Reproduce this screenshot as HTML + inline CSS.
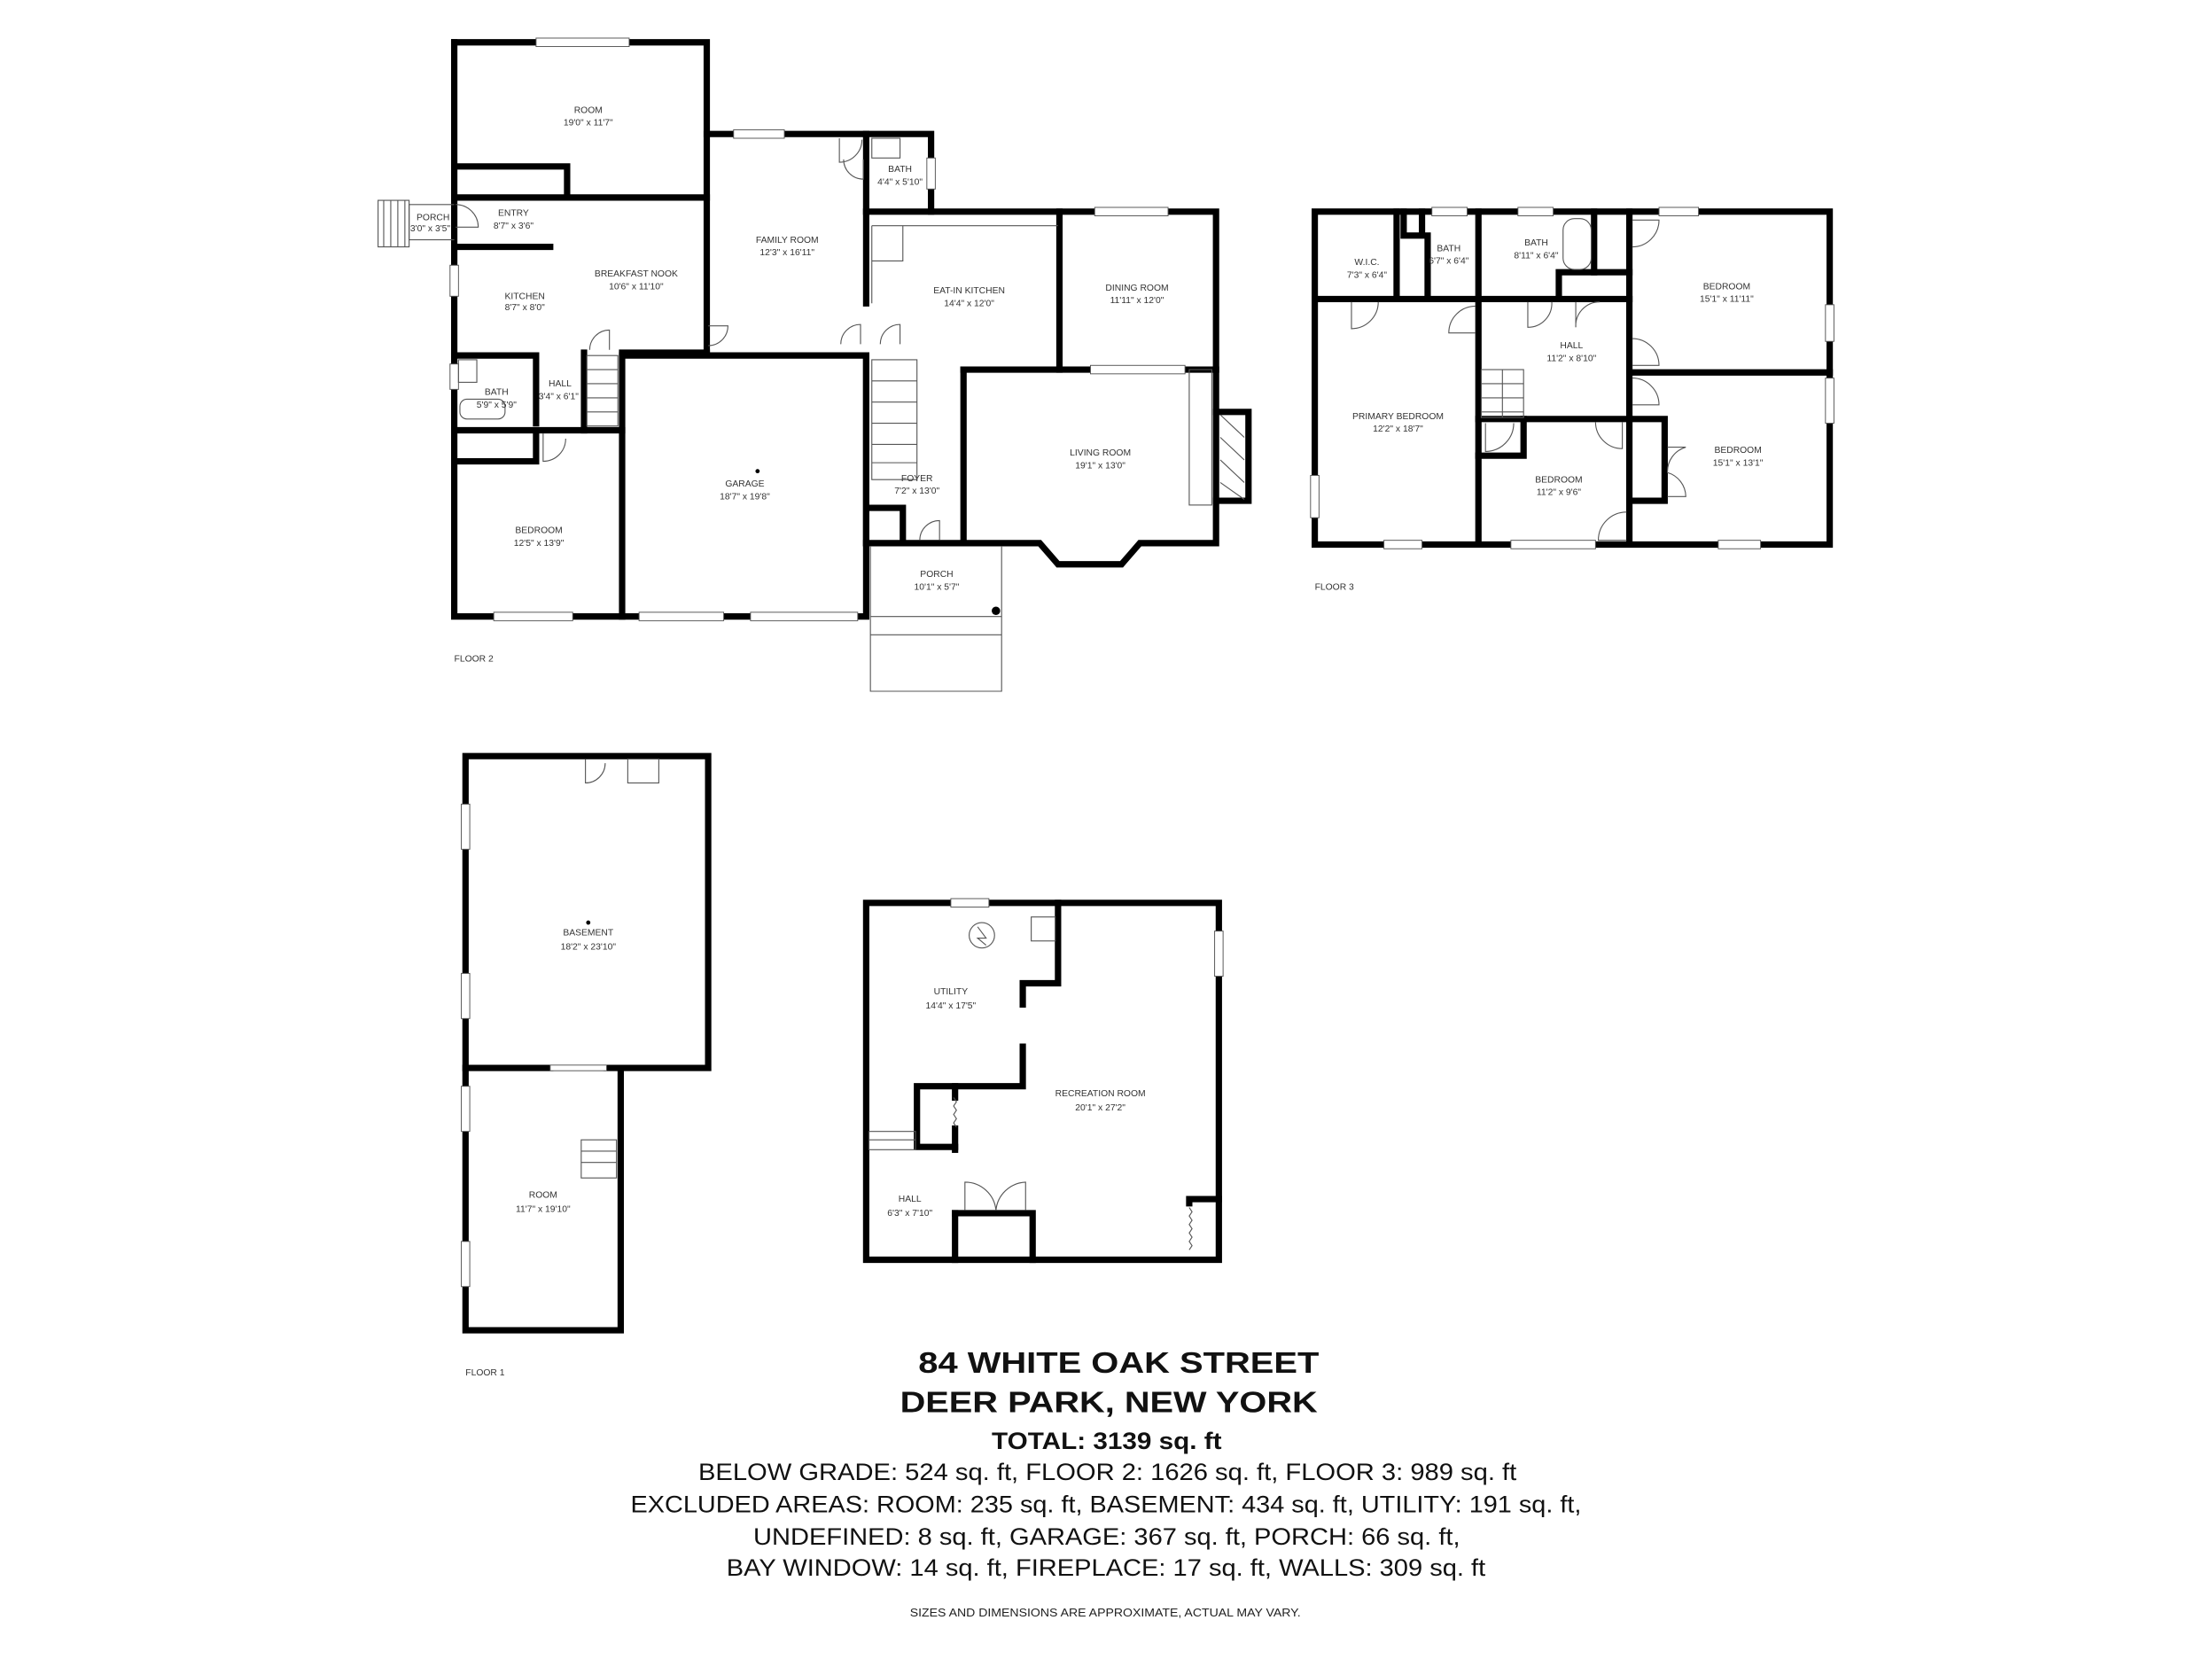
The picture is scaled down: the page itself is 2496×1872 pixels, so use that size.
<!DOCTYPE html>
<html><head><meta charset="utf-8"><style>
html,body{margin:0;padding:0;background:#fff;}
svg{display:block;}
text{font-family:"Liberation Sans",sans-serif;fill:#333;}
.w{stroke:#000;stroke-width:4.5;fill:none;stroke-linecap:square;}
.t{stroke:#555;stroke-width:0.7;fill:none;}
.win{fill:#fff;stroke:#555;stroke-width:0.6;}
.lb{font-size:6.5px;text-anchor:middle;}
</style></head><body>
<svg width="2496" height="1872" viewBox="0 0 1568 1176" xmlns="http://www.w3.org/2000/svg">
<!-- FLOOR 2 -->
<g>
<polyline class="w" points="322,30 501,30 501,250"/>
<polyline class="w" points="322,30 322,437 441,437"/>
<polyline class="w" points="501,95 614,95"/>
<polyline class="w" points="614,95 660,95 660,150 614,150 614,215"/>
<line class="w" x1="614" y1="95" x2="614" y2="150"/>
<polyline class="w" points="660,150 862,150 862,385 808,385 795,400 750,400 737,385 683,385"/>
<polyline class="w" points="862,292 885,292 885,355 862,355"/>
<line class="w" x1="751" y1="150" x2="751" y2="262"/>
<line class="w" x1="683" y1="262" x2="862" y2="262"/>
<line class="w" x1="683" y1="262" x2="683" y2="385"/>
<polyline class="w" points="441,437 441,252 614,252 614,437 441,437"/>
<polyline class="w" points="614,385 683,385"/>
<polyline class="w" points="614,252 614,385"/>
<polyline class="w" points="617,360 640,360 640,385"/>
<polyline class="w" points="322,118 402,118 402,140"/>
<line class="w" x1="322" y1="140" x2="501" y2="140"/>
<line class="w" x1="322" y1="175" x2="390" y2="175"/>
<polyline class="w" points="322,252 380,252 380,300"/>
<line class="w" x1="322" y1="305" x2="441" y2="305"/>
<line class="w" x1="414" y1="250" x2="414" y2="305"/>
<polyline class="w" points="322,327 380,327 380,305"/>
<line class="w" x1="501" y1="250" x2="441" y2="250"/>
<rect x="380" y="27" width="66" height="6" class="win"/>
<rect x="520" y="92" width="36" height="6" class="win"/>
<rect x="776" y="147" width="52" height="6" class="win"/>
<rect x="773" y="259" width="67" height="6" class="win"/>
<rect x="350" y="434" width="56" height="6" class="win"/>
<rect x="453" y="434" width="60" height="6" class="win"/>
<rect x="532" y="434" width="76" height="6" class="win"/>
<rect x="657" y="112" width="6" height="22" class="win"/>
<rect x="319" y="188" width="6" height="22" class="win"/>
<rect x="319" y="258" width="6" height="18" class="win"/>
<rect x="843" y="262" width="16" height="96" class="t" fill="#fff"/>
<path class="t" d="M865,294 L882,310 M865,310 L882,326 M865,326 L882,342 M865,342 L882,354"/>
<polyline class="t" points="617,387 617,490 710,490 710,387"/>
<line class="t" x1="617" y1="437" x2="710" y2="437"/>
<line class="t" x1="617" y1="450" x2="710" y2="450"/>
<polyline class="t" points="322,145 290,145 290,170 322,170"/>
<path class="t" d="M268,142 L268,175 L290,175 L290,142 Z M272,142 V175 M277,142 V175 M282,142 V175 M287,142 V175"/>
<path class="t" d="M416,252 H438 V302 H416 Z M416,262 H438 M416,272 H438 M416,282 H438 M416,292 H438"/>
<path class="t" d="M618,255 H650 V340 H618 Z M618,270 H650 M618,285 H650 M618,300 H650 M618,315 H650 M618,328 H650"/>
<circle cx="706" cy="433" r="3" fill="#000"/>
<circle cx="537" cy="334" r="1.5" fill="#000"/>
<path class="t" d="M418,248 A14,14 0 0 1 432,234 V248 M502,245 A14,14 0 0 0 516,231 H502 M596,244 A14,14 0 0 1 610,230 V244 M624,244 A14,14 0 0 1 638,230 V244 M598,113 A14,14 0 0 0 612,127 V113 M652,383 A14,14 0 0 1 666,369 V383 M595,98 V115 A16,16 0 0 0 611,99 M323,145 A16,16 0 0 1 339,161 H323 M385,307 V327 A16,16 0 0 0 401,311"/>
<rect x="618" y="98" width="20" height="14" class="t"/>
<rect x="325" y="255" width="13" height="16" class="t"/>
<rect x="326" y="283" width="32" height="14" class="t" rx="5"/>
<path class="t" d="M618,160 H750 M618,160 V215 M640,160 V185 H618"/>
</g>
<text class="lb" x="417" y="80">ROOM</text><text class="lb" x="417" y="89">19'0" x 11'7"</text>
<text class="lb" x="364" y="153">ENTRY</text><text class="lb" x="364" y="162">8'7" x 3'6"</text>
<text class="lb" x="307" y="156">PORCH</text><text class="lb" x="305" y="164">3'0" x 3'5"</text>
<text class="lb" x="451" y="196">BREAKFAST NOOK</text><text class="lb" x="451" y="205">10'6" x 11'10"</text>
<text class="lb" x="372" y="212">KITCHEN</text><text class="lb" x="372" y="220">8'7" x 8'0"</text>
<text class="lb" x="558" y="172">FAMILY ROOM</text><text class="lb" x="558" y="181">12'3" x 16'11"</text>
<text class="lb" x="638" y="122">BATH</text><text class="lb" x="638" y="131">4'4" x 5'10"</text>
<text class="lb" x="687" y="208">EAT-IN KITCHEN</text><text class="lb" x="687" y="217">14'4" x 12'0"</text>
<text class="lb" x="806" y="206">DINING ROOM</text><text class="lb" x="806" y="215">11'11" x 12'0"</text>
<text class="lb" x="352" y="280">BATH</text><text class="lb" x="352" y="289">5'9" x 5'9"</text>
<text class="lb" x="397" y="274">HALL</text><text class="lb" x="396" y="283">3'4" x 6'1"</text>
<text class="lb" x="528" y="345">GARAGE</text><text class="lb" x="528" y="354">18'7" x 19'8"</text>
<text class="lb" x="780" y="323">LIVING ROOM</text><text class="lb" x="780" y="332">19'1" x 13'0"</text>
<text class="lb" x="650" y="341">FOYER</text><text class="lb" x="650" y="350">7'2" x 13'0"</text>
<text class="lb" x="664" y="409">PORCH</text><text class="lb" x="664" y="418">10'1" x 5'7"</text>
<text class="lb" x="382" y="378">BEDROOM</text><text class="lb" x="382" y="387">12'5" x 13'9"</text>
<text x="322" y="469" style="font-size:6.5px">FLOOR 2</text>
<!-- FLOOR 3 -->
<g>
<rect class="w" x="932" y="150" width="365" height="236"/>
<line class="w" x1="932" y1="212" x2="1155" y2="212"/>
<line class="w" x1="1048" y1="150" x2="1048" y2="386"/>
<line class="w" x1="1155" y1="150" x2="1155" y2="386"/>
<polyline class="w" points="1008,150 1008,167 995,167 995,150"/>
<line class="w" x1="1012" y1="167" x2="1012" y2="212"/>
<line class="w" x1="990" y1="150" x2="990" y2="212"/>
<line class="w" x1="1130" y1="150" x2="1130" y2="193"/>
<polyline class="w" points="1105,212 1105,193 1155,193"/>
<line class="w" x1="1155" y1="264" x2="1297" y2="264"/>
<line class="w" x1="1048" y1="297" x2="1155" y2="297"/>
<polyline class="w" points="1048,323 1080,323 1080,297"/>
<polyline class="w" points="1155,355 1180,355 1180,297 1155,297"/>
<rect x="1050" y="262" width="30" height="34" class="t"/>
<path class="t" d="M1050,272 H1080 M1050,282 H1080 M1050,292 H1080 M1065,262 V296"/>
<rect x="1015" y="147" width="25" height="6" class="win"/>
<rect x="1076" y="147" width="25" height="6" class="win"/>
<rect x="1176" y="147" width="28" height="6" class="win"/>
<rect x="981" y="383" width="27" height="6" class="win"/>
<rect x="1071" y="383" width="60" height="6" class="win"/>
<rect x="1218" y="383" width="30" height="6" class="win"/>
<rect x="1294" y="216" width="6" height="26" class="win"/>
<rect x="1294" y="268" width="6" height="32" class="win"/>
<rect x="929" y="337" width="6" height="30" class="win"/>
<path class="t" d="M958,214 V233 A19,19 0 0 0 977,214 M1046,217 A19,19 0 0 0 1027,236 H1046 M1157,175 A19,19 0 0 0 1176,156 H1157 M1157,240 A19,19 0 0 1 1176,259 H1157 M1157,268 A19,19 0 0 1 1176,287 H1157 M1053,300 V320 A20,20 0 0 0 1073,300 M1153,363 A20,20 0 0 0 1133,383 H1153 M1131,299 A19,19 0 0 0 1150,318 V299 M1083,214 V232 A17,17 0 0 0 1100,214 M1117,214 V232 A17,17 0 0 1 1134,214 M1182,317 H1195 A18,18 0 0 0 1182,335 A18,18 0 0 1 1195,352 H1182"/>
<rect x="1108" y="155" width="20" height="36" rx="8" class="t"/>
</g>
<text class="lb" x="969" y="188">W.I.C.</text><text class="lb" x="969" y="197">7'3" x 6'4"</text>
<text class="lb" x="1027" y="178">BATH</text><text class="lb" x="1027" y="187">6'7" x 6'4"</text>
<text class="lb" x="1089" y="174">BATH</text><text class="lb" x="1089" y="183">8'11" x 6'4"</text>
<text class="lb" x="1224" y="205">BEDROOM</text><text class="lb" x="1224" y="214">15'1" x 11'11"</text>
<text class="lb" x="1114" y="247">HALL</text><text class="lb" x="1114" y="256">11'2" x 8'10"</text>
<text class="lb" x="991" y="297">PRIMARY BEDROOM</text><text class="lb" x="991" y="306">12'2" x 18'7"</text>
<text class="lb" x="1232" y="321">BEDROOM</text><text class="lb" x="1232" y="330">15'1" x 13'1"</text>
<text class="lb" x="1105" y="342">BEDROOM</text><text class="lb" x="1105" y="351">11'2" x 9'6"</text>
<text x="932" y="418" style="font-size:6.5px">FLOOR 3</text>
<!-- FLOOR 1 -->
<polyline class="w" points="330,536 502,536 502,757 440,757 440,943 330,943 330,536"/>
<line class="w" x1="330" y1="757" x2="390" y2="757"/>
<line class="w" x1="430" y1="757" x2="440" y2="757"/>
<rect x="390" y="755" width="40" height="4" class="win"/>
<rect x="327" y="570" width="6" height="32" class="win"/>
<rect x="327" y="690" width="6" height="32" class="win"/>
<rect x="327" y="770" width="6" height="32" class="win"/>
<rect x="327" y="880" width="6" height="32" class="win"/>
<rect x="445" y="538" width="22" height="17" class="t"/>
<path class="t" d="M415,538 V555 A14,14 0 0 0 429,541"/>
<path class="t" d="M412,808 H437 V835 H412 Z M412,816 H437 M412,824 H437"/>
<circle cx="417" cy="654" r="1.5" fill="#000"/>
<text class="lb" x="417" y="663">BASEMENT</text><text class="lb" x="417" y="673">18'2" x 23'10"</text>
<text class="lb" x="385" y="849">ROOM</text><text class="lb" x="385" y="859">11'7" x 19'10"</text>
<text x="330" y="975" style="font-size:6.5px">FLOOR 1</text>
<polyline class="w" points="614,640 864,640 864,893 614,893 614,640"/>
<polyline class="w" points="750,640 750,697 725,697 725,712"/>
<polyline class="w" points="725,742 725,770 650,770 650,813 677,813"/>
<line class="w" x1="677" y1="770" x2="677" y2="778"/>
<line class="w" x1="677" y1="800" x2="677" y2="815"/>
<polyline class="w" points="677,860 732,860 732,893"/>
<line class="w" x1="677" y1="860" x2="677" y2="893"/>
<polyline class="w" points="843,853 843,850 864,850"/>
<rect x="674" y="637" width="27" height="6" class="win"/>
<rect x="861" y="660" width="6" height="32" class="win"/>
<path class="t" d="M676,778 l2,3 l-2,3 l2,3 l-2,3 l2,3 l-2,3 l2,3 M843,856 l2,3 l-2,3 l2,3 l-2,3 l2,3 l-2,3 l2,3 l-2,3 l2,3 l-2,3"/>
<circle cx="696" cy="663" r="9" class="t"/>
<path class="t" d="M693,657 L699,665 L693,665 L699,670"/>
<rect x="731" y="650" width="17" height="17" class="t"/>
<path class="t" d="M616,802 H649 V815 H616 Z M616,808 H649"/>
<path class="t" d="M684,858 V838 A22,22 0 0 1 706,858 A22,22 0 0 1 727,838 V858"/>
<text class="lb" x="674" y="705">UTILITY</text><text class="lb" x="674" y="715">14'4" x 17'5"</text>
<text class="lb" x="780" y="777">RECREATION ROOM</text><text class="lb" x="780" y="787">20'1" x 27'2"</text>
<text class="lb" x="645" y="852">HALL</text><text class="lb" x="645" y="862">6'3" x 7'10"</text>
<!-- TITLE -->
<text x="651" y="973" textLength="284" lengthAdjust="spacingAndGlyphs" style="font-size:21px;font-weight:bold;fill:#111">84 WHITE OAK STREET</text>
<text x="638" y="1001" textLength="296" lengthAdjust="spacingAndGlyphs" style="font-size:21px;font-weight:bold;fill:#111">DEER PARK, NEW YORK</text>
<text x="703" y="1027" textLength="163" lengthAdjust="spacingAndGlyphs" style="font-size:17px;font-weight:bold;fill:#111">TOTAL: 3139 sq. ft</text>
<text x="495" y="1049" textLength="580" lengthAdjust="spacingAndGlyphs" style="font-size:17px;fill:#111">BELOW GRADE: 524 sq. ft, FLOOR 2: 1626 sq. ft, FLOOR 3: 989 sq. ft</text>
<text x="447" y="1072" textLength="674" lengthAdjust="spacingAndGlyphs" style="font-size:17px;fill:#111">EXCLUDED AREAS: ROOM: 235 sq. ft, BASEMENT: 434 sq. ft, UTILITY: 191 sq. ft,</text>
<text x="534" y="1095" textLength="501" lengthAdjust="spacingAndGlyphs" style="font-size:17px;fill:#111">UNDEFINED: 8 sq. ft, GARAGE: 367 sq. ft, PORCH: 66 sq. ft,</text>
<text x="515" y="1117" textLength="538" lengthAdjust="spacingAndGlyphs" style="font-size:17px;fill:#111">BAY WINDOW: 14 sq. ft, FIREPLACE: 17 sq. ft, WALLS: 309 sq. ft</text>
<text x="645" y="1146" textLength="277" lengthAdjust="spacingAndGlyphs" style="font-size:8px;fill:#222">SIZES AND DIMENSIONS ARE APPROXIMATE, ACTUAL MAY VARY.</text>
</svg>
</body></html>
